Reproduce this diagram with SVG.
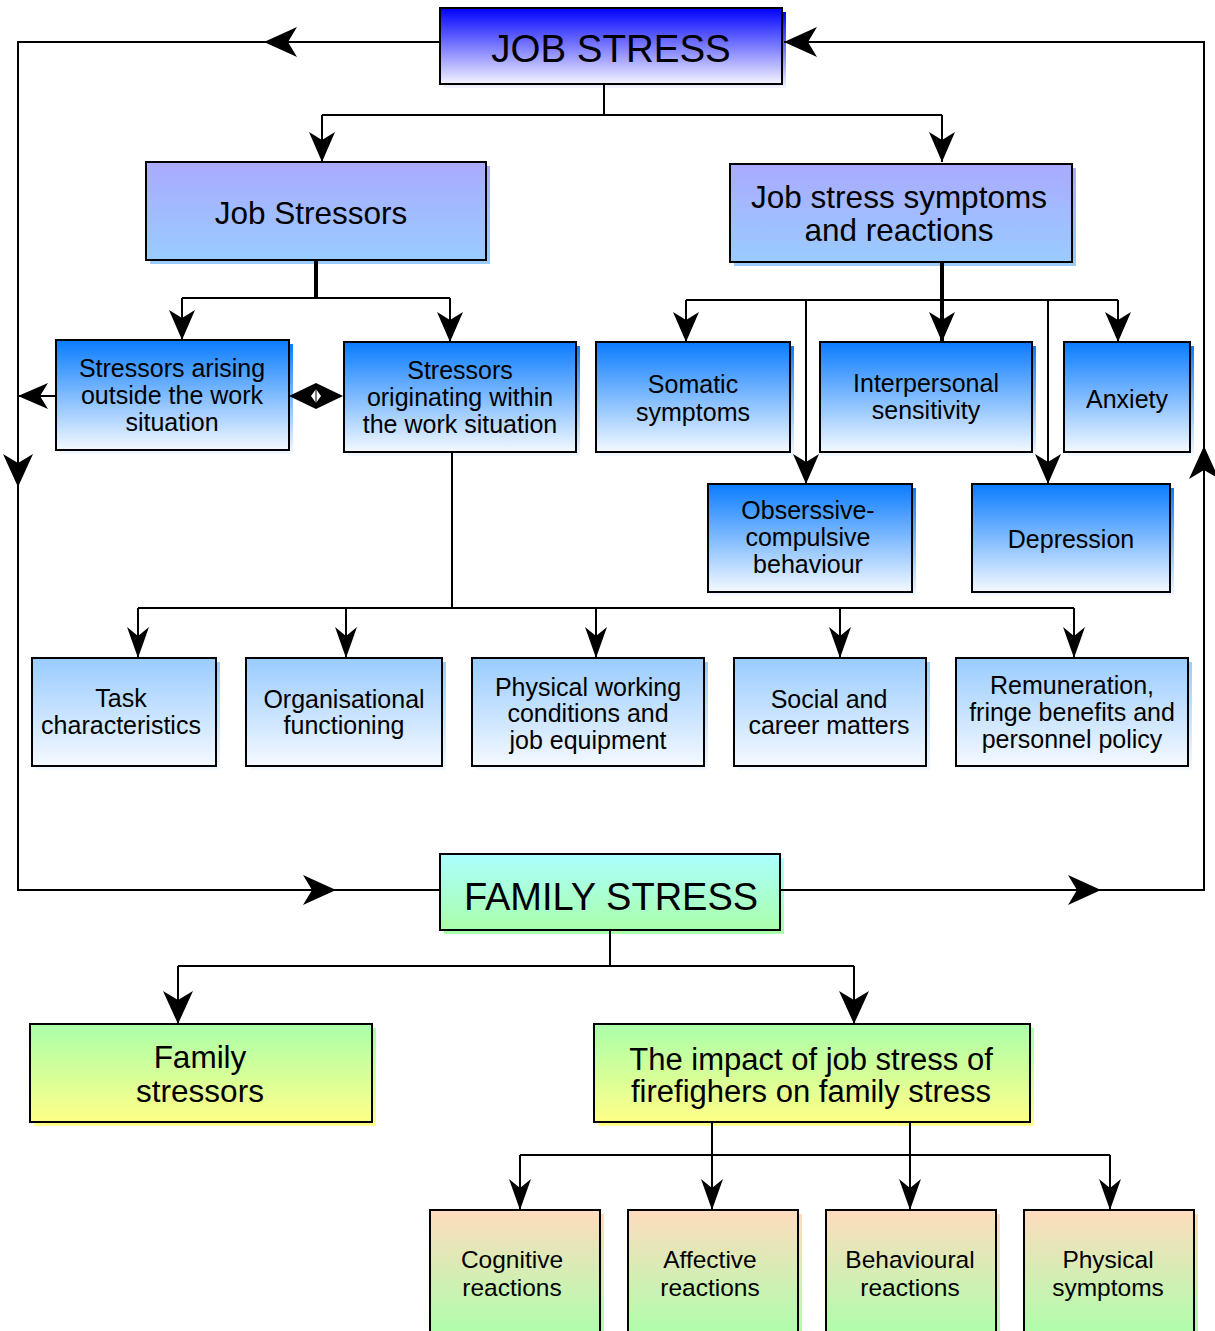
<svg xmlns="http://www.w3.org/2000/svg" width="1215" height="1331" viewBox="0 0 1215 1331">
<style>
.box{stroke:#000;stroke-width:2}
.t{font-family:"Liberation Sans",Arial,sans-serif;text-anchor:middle;fill:#000}
.t38{font-size:38.5px}.t37{font-size:38px}.t31{font-size:31.5px}.t30{font-size:31px}.t25{font-size:25px}.t24{font-size:24.5px}
.ln{fill:none;stroke:#000;stroke-width:2}
.thick{stroke-width:4}
</style>
<defs>
<linearGradient id="gJob" x1="0" y1="0" x2="0" y2="1"><stop offset="0" stop-color="#0000ff"/><stop offset="1" stop-color="#f4f4ff"/></linearGradient>
<linearGradient id="gLav" x1="0" y1="0" x2="0" y2="1"><stop offset="0" stop-color="#aaaaff"/><stop offset="1" stop-color="#99ccff"/></linearGradient>
<linearGradient id="gBlue" x1="0" y1="0" x2="0" y2="1"><stop offset="0" stop-color="#0a7cff"/><stop offset="1" stop-color="#f4f9ff"/></linearGradient>
<linearGradient id="gLight" x1="0" y1="0" x2="0" y2="1"><stop offset="0" stop-color="#99ccff"/><stop offset="1" stop-color="#f4f9ff"/></linearGradient>
<linearGradient id="gFam" x1="0" y1="0" x2="0" y2="1"><stop offset="0" stop-color="#aaffff"/><stop offset="1" stop-color="#aaffaa"/></linearGradient>
<linearGradient id="gYel" x1="0" y1="0" x2="0" y2="1"><stop offset="0" stop-color="#aaffaa"/><stop offset="1" stop-color="#ffff88"/></linearGradient>
<linearGradient id="gPeach" x1="0" y1="0" x2="0" y2="1"><stop offset="0" stop-color="#ffdcbe"/><stop offset="1" stop-color="#aaffaa"/></linearGradient>
<marker id="a" viewBox="-34 -16 35 32" markerWidth="35" markerHeight="32" refX="0" refY="0" markerUnits="userSpaceOnUse" orient="auto"><path d="M0,0 L-30,-13 L-22,0 L-30,13 Z" fill="#000"/></marker>
<marker id="b" viewBox="-34 -16 35 32" markerWidth="35" markerHeight="32" refX="0" refY="0" markerUnits="userSpaceOnUse" orient="auto"><path d="M0,0 L-33,-15 L-24,0 L-33,15 Z" fill="#000"/></marker>
<marker id="n" viewBox="-34 -16 35 32" markerWidth="35" markerHeight="32" refX="0" refY="0" markerUnits="userSpaceOnUse" orient="auto"><path d="M0,0 L-31,-11 L-22,0 L-31,11 Z" fill="#000"/></marker>
</defs>
<rect width="1215" height="1331" fill="#fff"/>

<g id="job-stress"><rect x="444" y="12" width="342" height="76" fill="url(#gJob)"/><rect class="box" x="440" y="8" width="342" height="76" fill="url(#gJob)"/><text class="t t38" x="611" y="62">JOB STRESS</text></g>
<g id="job-stressors"><rect x="150" y="166" width="340" height="98" fill="url(#gLav)"/><rect class="box" x="146" y="162" width="340" height="98" fill="url(#gLav)"/><text class="t t31" x="311" y="224">Job Stressors</text></g>
<g id="job-symptoms"><rect x="734" y="168" width="342" height="98" fill="url(#gLav)"/><rect class="box" x="730" y="164" width="342" height="98" fill="url(#gLav)"/><text class="t t31" x="899" y="208">Job stress symptoms</text><text class="t t31" x="899" y="241">and reactions</text></g>

<g id="stressors-outside"><rect x="60" y="344" width="233" height="110" fill="url(#gBlue)"/><rect class="box" x="56" y="340" width="233" height="110" fill="url(#gBlue)"/><text class="t t25" x="172" y="377">Stressors arising</text><text class="t t25" x="172" y="404">outside the work</text><text class="t t25" x="172" y="431">situation</text></g>
<g id="stressors-within"><rect x="348" y="346" width="232" height="110" fill="url(#gBlue)"/><rect class="box" x="344" y="342" width="232" height="110" fill="url(#gBlue)"/><text class="t t25" x="460" y="379">Stressors</text><text class="t t25" x="460" y="406">originating within</text><text class="t t25" x="460" y="433">the work situation</text></g>
<g id="somatic"><rect x="600" y="346" width="194" height="110" fill="url(#gBlue)"/><rect class="box" x="596" y="342" width="194" height="110" fill="url(#gBlue)"/><text class="t t25" x="693" y="393">Somatic</text><text class="t t25" x="693" y="421">symptoms</text></g>
<g id="interpersonal"><rect x="824" y="346" width="212" height="110" fill="url(#gBlue)"/><rect class="box" x="820" y="342" width="212" height="110" fill="url(#gBlue)"/><text class="t t25" x="926" y="392">Interpersonal</text><text class="t t25" x="926" y="419">sensitivity</text></g>
<g id="anxiety"><rect x="1068" y="346" width="126" height="110" fill="url(#gBlue)"/><rect class="box" x="1064" y="342" width="126" height="110" fill="url(#gBlue)"/><text class="t t25" x="1127" y="408">Anxiety</text></g>
<g id="obsessive"><rect x="712" y="488" width="204" height="108" fill="url(#gBlue)"/><rect class="box" x="708" y="484" width="204" height="108" fill="url(#gBlue)"/><text class="t t25" x="808" y="519">Obserssive-</text><text class="t t25" x="808" y="546">compulsive</text><text class="t t25" x="808" y="573">behaviour</text></g>
<g id="depression"><rect x="976" y="488" width="198" height="108" fill="url(#gBlue)"/><rect class="box" x="972" y="484" width="198" height="108" fill="url(#gBlue)"/><text class="t t25" x="1071" y="548">Depression</text></g>

<g id="task"><rect x="36" y="662" width="184" height="108" fill="url(#gLight)"/><rect class="box" x="32" y="658" width="184" height="108" fill="url(#gLight)"/><text class="t t25" x="121" y="707">Task</text><text class="t t25" x="121" y="734">characteristics</text></g>
<g id="organisational"><rect x="250" y="662" width="196" height="108" fill="url(#gLight)"/><rect class="box" x="246" y="658" width="196" height="108" fill="url(#gLight)"/><text class="t t25" x="344" y="708">Organisational</text><text class="t t25" x="344" y="734">functioning</text></g>
<g id="physical-working"><rect x="476" y="662" width="232" height="108" fill="url(#gLight)"/><rect class="box" x="472" y="658" width="232" height="108" fill="url(#gLight)"/><text class="t t25" x="588" y="696">Physical working</text><text class="t t25" x="588" y="722">conditions and</text><text class="t t25" x="588" y="749">job equipment</text></g>
<g id="social"><rect x="738" y="662" width="192" height="108" fill="url(#gLight)"/><rect class="box" x="734" y="658" width="192" height="108" fill="url(#gLight)"/><text class="t t25" x="829" y="708">Social and</text><text class="t t25" x="829" y="734">career matters</text></g>
<g id="remuneration"><rect x="960" y="662" width="232" height="108" fill="url(#gLight)"/><rect class="box" x="956" y="658" width="232" height="108" fill="url(#gLight)"/><text class="t t25" x="1072" y="694">Remuneration,</text><text class="t t25" x="1072" y="721">fringe benefits and</text><text class="t t25" x="1072" y="748">personnel policy</text></g>

<g id="family-stress"><rect x="444" y="858" width="340" height="76" fill="url(#gFam)"/><rect class="box" x="440" y="854" width="340" height="76" fill="url(#gFam)"/><text class="t t37" x="611" y="910">FAMILY STRESS</text></g>
<g id="family-stressors"><rect x="34" y="1028" width="342" height="98" fill="url(#gYel)"/><rect class="box" x="30" y="1024" width="342" height="98" fill="url(#gYel)"/><text class="t t31" x="200" y="1068">Family</text><text class="t t31" x="200" y="1102">stressors</text></g>
<g id="impact"><rect x="598" y="1028" width="436" height="98" fill="url(#gYel)"/><rect class="box" x="594" y="1024" width="436" height="98" fill="url(#gYel)"/><text class="t t30" x="811" y="1070">The impact of job stress of</text><text class="t t30" x="811" y="1102">firefighers on family stress</text></g>

<g id="cognitive"><rect x="434" y="1214" width="170" height="130" fill="url(#gPeach)"/><rect class="box" x="430" y="1210" width="170" height="130" fill="url(#gPeach)"/><text class="t t24" x="512" y="1268">Cognitive</text><text class="t t24" x="512" y="1296">reactions</text></g>
<g id="affective"><rect x="632" y="1214" width="170" height="130" fill="url(#gPeach)"/><rect class="box" x="628" y="1210" width="170" height="130" fill="url(#gPeach)"/><text class="t t24" x="710" y="1268">Affective</text><text class="t t24" x="710" y="1296">reactions</text></g>
<g id="behavioural"><rect x="830" y="1214" width="170" height="130" fill="url(#gPeach)"/><rect class="box" x="826" y="1210" width="170" height="130" fill="url(#gPeach)"/><text class="t t24" x="910" y="1268">Behavioural</text><text class="t t24" x="910" y="1296">reactions</text></g>
<g id="physical-symptoms"><rect x="1028" y="1214" width="170" height="130" fill="url(#gPeach)"/><rect class="box" x="1024" y="1210" width="170" height="130" fill="url(#gPeach)"/><text class="t t24" x="1108" y="1268">Physical</text><text class="t t24" x="1108" y="1296">symptoms</text></g>

<g id="connectors">
<path class="ln" d="M604,84 V115 M322,115 H942"/>
<path class="ln" d="M322,115 V162" marker-end="url(#a)"/>
<path class="ln" d="M942,115 V162" marker-end="url(#a)"/>
<path class="ln" d="M440,42 H264" marker-end="url(#b)"/>
<path class="ln" d="M264,42 H18 V487" marker-end="url(#b)"/>
<path class="ln" d="M18,487 V890 H336" marker-end="url(#b)"/>
<path class="ln" d="M336,890 H440"/>
<path class="ln" d="M780,890 H1101" marker-end="url(#b)"/>
<path class="ln" d="M1101,890 H1205 M1204,890 V446" marker-end="url(#b)"/>
<path class="ln" d="M1204,446 V42 H784" marker-end="url(#b)"/>
<path class="ln thick" d="M316,260 V298"/>
<path class="ln" d="M182,298 H450"/>
<path class="ln" d="M182,298 V340" marker-end="url(#a)"/>
<path class="ln" d="M450,298 V342" marker-end="url(#a)"/>
<path class="ln" d="M56,396 H18" marker-end="url(#a)"/>
<path d="M289,396 L316,383 L343,396 L316,409 Z" fill="#000"/>
<path d="M311,396 L316,389 L321,396 L316,403 Z" fill="#fff"/>
<path d="M316,389 V403" stroke="#000" stroke-width="1"/>
<path class="ln thick" d="M942,262 V342" marker-end="url(#a)"/>
<path class="ln" d="M686,300 H1118"/>
<path class="ln" d="M686,300 V342" marker-end="url(#a)"/>
<path class="ln" d="M1118,300 V342" marker-end="url(#a)"/>
<path class="ln" d="M806,300 V484" marker-end="url(#a)"/>
<path class="ln" d="M1048,300 V484" marker-end="url(#a)"/>
<path class="ln" d="M452,452 V608 M138,608 H1074"/>
<path class="ln" d="M138,608 V658" marker-end="url(#n)"/>
<path class="ln" d="M346,608 V658" marker-end="url(#n)"/>
<path class="ln" d="M596,608 V658" marker-end="url(#n)"/>
<path class="ln" d="M840,608 V658" marker-end="url(#n)"/>
<path class="ln" d="M1074,608 V658" marker-end="url(#n)"/>
<path class="ln" d="M610,930 V966 M178,966 H854"/>
<path class="ln" d="M178,966 V1024" marker-end="url(#b)"/>
<path class="ln" d="M854,966 V1024" marker-end="url(#b)"/>
<path class="ln" d="M520,1155 H1110"/>
<path class="ln" d="M712,1122 V1210" marker-end="url(#n)"/>
<path class="ln" d="M910,1122 V1210" marker-end="url(#n)"/>
<path class="ln" d="M520,1155 V1210" marker-end="url(#n)"/>
<path class="ln" d="M1110,1155 V1210" marker-end="url(#n)"/>
</g>
</svg>
